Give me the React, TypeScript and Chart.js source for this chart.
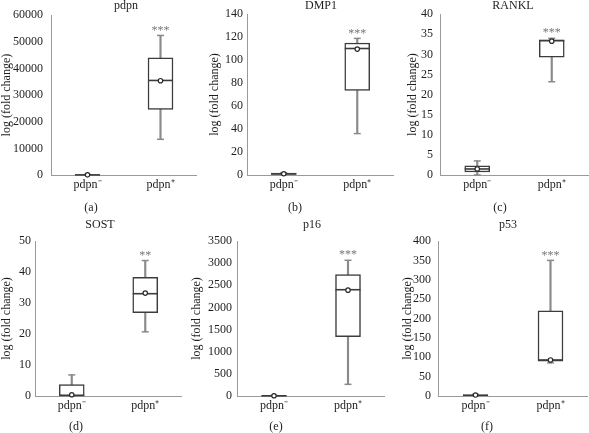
import React, { useEffect, useRef } from 'react';
import { Chart, registerables } from 'chart.js';

Chart.register(...registerables);

// ---------- data ----------
const categories = ['pdpn\u207B', 'pdpn\u207A'];
const geneNames = ['pdpn', 'DMP1', 'RANKL', 'SOST', 'p16', 'p53'];
const panelCaptions = ['(a)', '(b)', '(c)', '(d)', '(e)', '(f)'];
const significance = ['***', '***', '***', '**', '***', '***'];
const axisMax = [60000, 140, 40, 50, 3500, 400];
const axisStep = [10000, 20, 5, 5, 500, 50];

// [pdpn-, pdpn+] per gene
const whiskerLow = [[0, 13400], [0.3, 36], [0, 23.2], [0.1, 20.7], [0, 263], [1.2, 85.5]];
const quartile1 = [[20, 24600], [0.5, 73.6], [0.75, 29.3], [0, 26.9], [2, 1337], [1.6, 90]];
const medians = [[50, 35500], [1, 110], [1.5, 33.4], [0.2, 33], [5, 2400], [2, 93]];
const quartile3 = [[100, 44000], [1.6, 114.8], [2.3, 33.6], [3.7, 38.3], [8, 2742], [3, 220]];
const whiskerHigh = [[150, 52400], [2, 118.8], [3.5, 34], [6.8, 43.7], [12, 3065], [4, 350]];
const means = [[60, 35400], [1.1, 109.5], [1.5, 33.3], [0.4, 33.2], [6, 2390], [2.5, 93]];

// ---------- layout (page coordinates) ----------
const panels = [
  { left: 0, top: 0, width: 197, height: 216, axisWidth: 51, padTop: 14, xHeight: 41, tickPad: 8, titleX: 126, titleY: 6, capX: 91, capY: 208 },
  { left: 208, top: 0, width: 186, height: 216, axisWidth: 39, padTop: 14, xHeight: 41, tickPad: 4, titleX: 321, titleY: 6, capX: 295, capY: 208 },
  { left: 406, top: 0, width: 183, height: 216, axisWidth: 34, padTop: 14, xHeight: 41, tickPad: 7, titleX: 513, titleY: 6, capX: 500, capY: 208 },
  { left: 0, top: 218, width: 182, height: 215, axisWidth: 35, padTop: 23, xHeight: 37, tickPad: 4, titleX: 100, titleY: 225, capX: 76, capY: 427 },
  { left: 190, top: 218, width: 195, height: 215, axisWidth: 47, padTop: 23, xHeight: 37, tickPad: 5, titleX: 312, titleY: 225, capX: 276, capY: 427 },
  { left: 401, top: 218, width: 187, height: 215, axisWidth: 37, padTop: 23, xHeight: 37, tickPad: 7, titleX: 508, titleY: 225, capX: 487, capY: 427 },
];

const FONT = "'Liberation Serif', 'Times New Roman', serif";
const TEXT = '#1e1e1e';
const BOX = '#3c3c3c';
const WHISKER = '#8a8a8a';
const AXIS = '#9a9a9a';

Chart.defaults.font.family = FONT;

const panelText = {
  id: 'panelText',
  afterDraw(chart: any, _args: any, opts: any) {
    const { ctx, scales } = chart;
    ctx.save();
    ctx.font = `12px ${FONT}`;
    ctx.textAlign = 'center';
    ctx.textBaseline = 'middle';
    ctx.fillStyle = TEXT;
    ctx.fillText(opts.title, opts.titleX, opts.titleY);
    ctx.fillText(opts.caption, opts.capX, opts.capY);
    const x = scales.x.getPixelForValue(1);
    const y = scales.y.getPixelForValue(opts.starValue);
    ctx.fillStyle = '#777';
    ctx.fillText(opts.stars, x, y - 5);
    ctx.restore();
  },
};

function Panel({ index }: { index: number }) {
  const ref = useRef<HTMLCanvasElement | null>(null);
  const p = panels[index];
  useEffect(() => {
    const lows = whiskerLow[index];
    const highs = whiskerHigh[index];
    const q1 = quartile1[index];
    const q3 = quartile3[index];
    const chart = new Chart(ref.current as HTMLCanvasElement, {
      type: 'bar',
      data: {
        labels: categories,
        datasets: [
          {
            type: 'bar',
            data: lows.map((l, i) => [l, highs[i]]),
            backgroundColor: WHISKER,
            barThickness: 1.5,
            grouped: false,
            order: 5,
          } as any,
          {
            type: 'bar',
            data: q1.map((l, i) => [l, q3[i]]),
            backgroundColor: '#ffffff',
            borderColor: BOX,
            borderWidth: 1.5,
            borderSkipped: false,
            barThickness: 25,
            grouped: false,
            order: 4,
          } as any,
          {
            type: 'line',
            data: lows,
            showLine: false,
            pointStyle: 'line',
            pointRadius: 3.5,
            pointBorderColor: WHISKER,
            pointBorderWidth: 1.5,
            clip: false,
            order: 3,
          } as any,
          {
            type: 'line',
            data: highs,
            showLine: false,
            pointStyle: 'line',
            pointRadius: 3.5,
            pointBorderColor: WHISKER,
            pointBorderWidth: 1.5,
            clip: false,
            order: 3,
          } as any,
          {
            type: 'line',
            data: medians[index],
            showLine: false,
            pointStyle: 'line',
            pointRadius: 12.5,
            pointBorderColor: BOX,
            pointBorderWidth: 1.6,
            clip: false,
            order: 2,
          } as any,
          {
            type: 'line',
            data: means[index],
            showLine: false,
            pointStyle: 'circle',
            pointRadius: 2.2,
            pointBackgroundColor: '#ffffff',
            pointBorderColor: '#2a2a2a',
            pointBorderWidth: 1.2,
            clip: false,
            order: 1,
          } as any,
        ],
      },
      options: {
        responsive: false,
        animation: false,
        events: [],
        layout: { autoPadding: false, padding: { top: p.padTop, left: 0, right: 0, bottom: 0 } },
        plugins: {
          legend: { display: false },
          tooltip: { enabled: false },
          title: { display: false },
          panelText: {
            title: geneNames[index],
            caption: panelCaptions[index],
            stars: significance[index],
            starValue: highs[1],
            titleX: p.titleX - p.left,
            titleY: p.titleY - p.top,
            capX: p.capX - p.left,
            capY: p.capY - p.top,
          },
        } as any,
        scales: {
          x: {
            grid: { display: false, drawTicks: false, tickLength: 0 },
            border: { display: true, color: AXIS, width: 1 },
            ticks: { padding: 3, color: TEXT, font: { size: 12, family: FONT } },
            afterFit: (s: any) => { s.height = p.xHeight; },
          },
          y: {
            min: 0,
            max: axisMax[index],
            grid: { display: false, drawTicks: false, tickLength: 0 },
            border: { display: true, color: AXIS, width: 1 },
            ticks: {
              stepSize: axisStep[index],
              padding: p.tickPad,
              color: TEXT,
              font: { size: 12, family: FONT },
              callback: (v: any) => String(v),
            },
            title: {
              display: true,
              text: 'log (fold change)',
              color: TEXT,
              font: { size: 12, family: FONT },
              padding: 0,
            },
            afterFit: (s: any) => { s.width = p.axisWidth; },
          },
        },
      } as any,
      plugins: [panelText],
    });
    return () => chart.destroy();
  }, [index]);
  return (
    <canvas
      ref={ref}
      width={p.width}
      height={p.height}
      style={{ position: 'absolute', left: p.left, top: p.top, width: p.width, height: p.height }}
    />
  );
}

export default function App() {
  return (
    <div style={{ position: 'absolute', left: 0, top: 0, width: 589, height: 433, background: '#ffffff', overflow: 'hidden' }}>
      {panels.map((_, i) => (
        <Panel key={i} index={i} />
      ))}
    </div>
  );
}
